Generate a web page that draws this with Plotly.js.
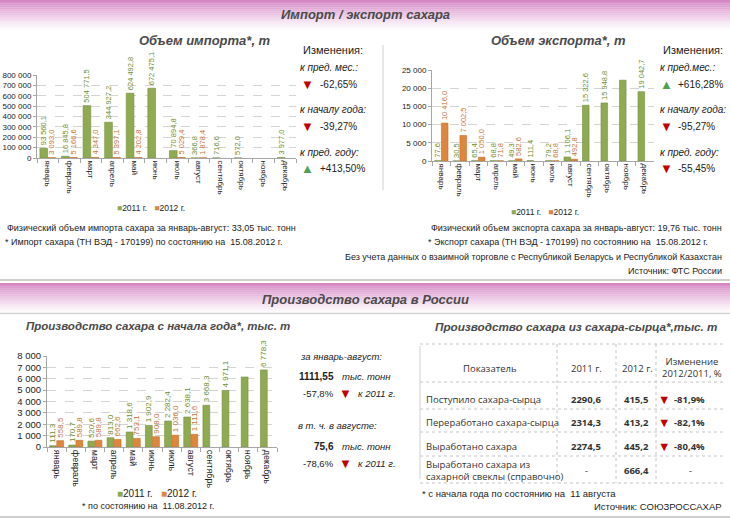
<!DOCTYPE html>
<html>
<head>
<meta charset="utf-8">
<script src="https://cdn.plot.ly/plotly-3.0.1.min.js"></script>
<style>html,body{margin:0;padding:0;background:#fff}#chart{width:730px;height:519px}</style>
</head>
<body>
<div id="chart"></div>
<script>
// ---------- DATA ----------
const months = ['январь','февраль','март','апрель','май','июнь','июль','август','сентябрь','октябрь','ноябрь','декабрь'];
const seriesNames = ['2011 г.','2012 г.'];

const import2011 = [93560.1,16845.8,504771.5,344927.2,624492.8,672475.1,70894.8,366.8,716.6,572.0,null,3977.0];
const import2012 = [3093.0,5166.6,4347.0,5397.1,4202.8,null,5029.4,1878.4,null,null,null,null];

const export2011 = [77.6,30.5,65.4,68.8,49.3,111.4,79.2,1106.1,15322.6,15948.8,22200,19042.7];
const export2012 = [10416.0,7002.5,1050.0,71.8,582.6,null,68.8,492.8,null,null,null,null];

const prod2011 = [111.3,170.7,520.6,813.0,1318.6,1902.9,2282.4,2638.1,3668.3,4971.1,6150,6778.3];
const prod2012 = [558.5,589.8,589.8,662.6,753.1,908.0,1036.0,1111.6,null,null,null,null];

// months whose 2011 label is not shown in the original
const hiddenLabelMonths = ['ноябрь'];

const importChangeLabels = ['к пред. мес.:','к началу года:','к пред. году:'];
const importChangeValues = [-62.65,-39.27,413.50];
const exportChangeLabels = ['к пред.мес.:','к началу года:','к пред. году:'];
const exportChangeValues = [616.28,-95.27,-55.45];

const importTotal = 33.05;
const exportTotal = 19.76;

const prodTotal = '1111,55';
const prodTotalChange = -57.8;
const prodAug = '75,6';
const prodAugChange = -78.6;

const tableHeader = ['Показатель','2011 г.','2012 г.','Изменение<br>2012/2011, %'];
const tableRows = ['Поступило сахара-сырца','Переработано сахара-сырца','Выработано сахара','Выработано сахара из<br>сахарной свеклы (справочно)'];
const table2011 = [2290.6,2314.3,2274.5,null];
const table2012 = [415.5,413.2,445.2,666.4];
const tableChange = [-81.9,-82.1,-80.4,null];

// ---------- STYLE ----------
const W = 730, H = 519;
const FONT = 'Liberation Sans, Arial, sans-serif';
const GREEN = '#8fab52', GREEN_LINE = '#748e3c', ORANGE = '#e0863c', ORANGE_LINE = '#c46e2a';
const GREEN_TXT = '#6d8d2c', ORANGE_TXT = '#c8733a';
const RED = '#c00000', UP = '#4fa04f';
const TXT = '#222';
const px = x => x / W;
const py = y => 1 - y / H;
const fmt = (v, d) => v.toFixed(d).replace('.', ',');

function ann(x, y, text, o) {
  o = o || {};
  return {xref:'paper', yref:'paper', x:px(x), y:py(y), text:text, showarrow:false,
    xanchor:o.xa || 'left', yanchor:'middle', align:o.align || 'left',
    font:{family:FONT, size:o.size || 9, color:o.color || TXT}};
}
function tplHidden() {
  return months.map(m => hiddenLabelMonths.includes(m) ? '' : '%{y:,.1f}');
}

function barTrace(x, y, name, xa, ya, green, size, hide) {
  return {type:'bar', x:x, y:y, name:name, xaxis:xa, yaxis:ya, showlegend:false,
    marker:{color: green ? GREEN : ORANGE, line:{color: green ? GREEN_LINE : ORANGE_LINE, width:0.6}},
    texttemplate: hide ? tplHidden() : '%{y:,.1f}', textposition:'outside', textangle:-90,
    constraintext:'none', cliponaxis:false,
    textfont:{family:FONT, size:size, color: green ? GREEN_TXT : ORANGE_TXT}};
}

const traces = [
  barTrace(months, import2011, seriesNames[0], 'x', 'y', true, 7.5, false),
  barTrace(months, import2012, seriesNames[1], 'x', 'y', false, 7.5, false),
  barTrace(months, export2011, seriesNames[0], 'x2', 'y2', true, 7.5, true),
  barTrace(months, export2012, seriesNames[1], 'x2', 'y2', false, 7.5, false),
  barTrace(months, prod2011, seriesNames[0], 'x3', 'y3', true, 8, true),
  barTrace(months, prod2012, seriesNames[1], 'x3', 'y3', false, 8, false)
];

function xAxis(x0, x1, anchor, fs) {
  return {domain:[px(x0), px(x1)], anchor:anchor, type:'category', tickangle:90,
    tickfont:{family:FONT, size:fs, color:TXT}, showline:true, linecolor:'#a6a6a6', linewidth:1,
    ticks:'outside', tickson:'boundaries', ticklen:4, tickcolor:'#a6a6a6', showgrid:false, fixedrange:true};
}
function yAxis(yTop, yBot, anchor, max, dt, fs) {
  return {domain:[py(yBot), py(yTop)], anchor:anchor, range:[0, max], dtick:dt, tickformat:',d',
    tickfont:{family:FONT, size:fs, color:TXT}, showgrid:true, gridcolor:'#d4d4d4', griddash:'dash',
    showline:true, linecolor:'#a6a6a6', ticks:'outside', ticklen:3, tickcolor:'#a6a6a6',
    zeroline:false, fixedrange:true};
}

// ---------- SHAPES ----------
const shapes = [];
function rect(x0, y0, x1, y1, fill, line) {
  shapes.push({type:'rect', xref:'paper', yref:'paper', x0:px(x0), x1:px(x1), y0:py(y1), y1:py(y0),
    fillcolor:fill, line:line || {width:0}, layer:'below'});
}
function lineP(x0, y0, x1, y1, color, width, dash) {
  shapes.push({type:'line', xref:'paper', yref:'paper', x0:px(x0), x1:px(x1), y0:py(y0), y1:py(y1),
    line:{color:color, width:width || 1, dash:dash || 'solid'}, layer:'below'});
}
function banner(y0, y1) {
  const n = 16;
  for (let i = 0; i < n; i++) {
    const a = Math.pow(1 - i / n, 1.3) * 0.95;
    rect(0, y0 + i * (y1 - y0) / n, W, y0 + (i + 1) * (y1 - y0) / n, 'rgba(211,128,194,' + a.toFixed(3) + ')');
  }
}
banner(0, 30);
lineP(0, 280, W, 280, '#cfcfcf', 2);
banner(283, 313);
lineP(0, 313.5, W, 313.5, '#d4d4d4', 1.5);
lineP(0, 517, W, 517, '#cfcfcf', 2);
lineP(383, 45, 383, 190, '#cfcfcf', 1);

// table grid
const tCols = [420, 557, 616, 656, 725];
const tLines = [344, 382, 409, 432, 456, 483];
tLines.forEach(y => lineP(420, y, 725, y, '#c4c4c4', 1, 'dot'));
tCols.slice(1, 4).forEach(x => lineP(x, 344, x, 483, '#c4c4c4', 1, 'dot'));
lineP(420, 346, 420, 479, '#d0d0d0', 1);

// ---------- ANNOTATIONS ----------
const A = [];
const TITLE_C = '#4a4a4a';
A.push(ann(365, 14, '<b><i>Импорт / экспорт сахара</i></b>', {xa:'center', size:13, color:TITLE_C}));
A.push(ann(205, 40, '<b><i>Объем импорта*, т</i></b>', {xa:'center', size:13, color:TITLE_C}));
A.push(ann(558, 40, '<b><i>Объем экспорта*, т</i></b>', {xa:'center', size:13, color:TITLE_C}));
A.push(ann(365, 299, '<b><i>Производство сахара в России</i></b>', {xa:'center', size:13, color:TITLE_C}));
A.push(ann(158, 326, '<b><i>Производство сахара с начала года*, тыс. т</i></b>', {xa:'center', size:11.5, color:TITLE_C}));
A.push(ann(576, 326, '<b><i>Производство сахара из сахара-сырца*,тыс. т</i></b>', {xa:'center', size:11.7, color:TITLE_C}));

// changes blocks
function changes(xL, xIcon, xVal, labels, vals) {
  const ys = [[68, 84], [110, 126], [152, 168]];
  labels.forEach((l, i) => {
    A.push(ann(xL, ys[i][0], '<i>' + l + '</i>', {size:10}));
    const v = vals[i];
    A.push(ann(xIcon, ys[i][1], v < 0 ? '▼' : '▲', {xa:'center', size:13, color: v < 0 ? RED : UP}));
    A.push(ann(xVal, ys[i][1], (v > 0 ? '+' : '') + fmt(v, 2) + '%', {size:10}));
  });
}
A.push(ann(301, 50, 'Изменения:', {size:11}));
changes(298, 307, 318, importChangeLabels, importChangeValues);
A.push(ann(661, 50, 'Изменения:', {size:11}));
changes(658, 666, 676, exportChangeLabels, exportChangeValues);

// legends
function legend(xc, y, size) {
  return ann(xc, y, '<span style="color:' + GREEN + '">■</span>' + seriesNames[0] +
    '   <span style="color:' + ORANGE + '">■</span>' + seriesNames[1], {xa:'center', size:size});
}
A.push(legend(151, 208, 8.5));
A.push(legend(545, 212, 8.5));
A.push(legend(157, 493, 10));

// notes top
A.push(ann(5, 228, 'Физический объем импорта сахара за январь-август: ' + fmt(importTotal, 2) + ' тыс. тонн', {size:9}));
A.push(ann(3, 242, '* Импорт сахара (ТН ВЭД - 170199) по состоянию на  15.08.2012 г.', {size:9}));
A.push(ann(724, 228, 'Физический объем экспорта сахара за январь-август: ' + fmt(exportTotal, 2) + ' тыс. тонн', {xa:'right', size:9}));
A.push(ann(710, 242, '* Экспорт сахара (ТН ВЭД - 170199) по состоянию на  15.08.2012 г.', {xa:'right', size:9}));
A.push(ann(724, 257, 'Без учета данных о взаимной торговле с Республикой Беларусь и Республикой Казахстан', {xa:'right', size:9}));
A.push(ann(724, 271, 'Источник: ФТС России', {xa:'right', size:9}));

// production side text
A.push(ann(298, 356, '<i>за январь-август:</i>', {size:9.5}));
A.push(ann(336, 376, '<b>' + prodTotal + '</b>', {xa:'right', size:10}));
A.push(ann(340, 376, '<i>тыс. тонн</i>', {size:9.5}));
A.push(ann(336, 393, fmt(prodTotalChange, 1) + '%', {xa:'right', size:9.5}));
A.push(ann(345, 393, '▼', {xa:'center', size:13, color:RED}));
A.push(ann(356, 393, '<i>к 2011 г.</i>', {size:9.5}));
A.push(ann(296, 425, '<i>в т. ч. в августе:</i>', {size:9.5}));
A.push(ann(336, 446, '<b>' + prodAug + '</b>', {xa:'right', size:10}));
A.push(ann(340, 446, '<i>тыс. тонн</i>', {size:9.5}));
A.push(ann(336, 463, fmt(prodAugChange, 1) + '%', {xa:'right', size:9.5}));
A.push(ann(345, 463, '▼', {xa:'center', size:13, color:RED}));
A.push(ann(356, 463, '<i>к 2011 г.</i>', {size:9.5}));
A.push(ann(80, 506, '* по состоянию на  11.08.2012 г.', {size:9}));

// table
const TF = 'Open Sans, Liberation Sans, sans-serif';
function tann(x, y, text, xa, bold, color) {
  const a = ann(x, y, bold ? '<b>' + text + '</b>' : text, {xa:xa, size:9.5, color:color || '#333', align:'center'});
  a.font.family = TF;
  return a;
}
A.push(tann(490, 368, tableHeader[0], 'center'));
A.push(tann(586, 368, tableHeader[1], 'center'));
A.push(tann(637, 368, tableHeader[2], 'center'));
A.push(tann(692, 367, tableHeader[3], 'center'));
const rowY = [399, 422, 446, 470];
tableRows.forEach((r, i) => {
  const ra = tann(424, rowY[i], r, 'left');
  ra.align = 'left';
  A.push(ra);
  A.push(tann(586, rowY[i], table2011[i] == null ? '-' : fmt(table2011[i], 1), 'center', table2011[i] != null));
  A.push(tann(636, rowY[i], table2012[i] == null ? '-' : fmt(table2012[i], 1), 'center', true));
  if (tableChange[i] == null) {
    A.push(tann(690, rowY[i], '-', 'center'));
  } else {
    const t = tann(664, rowY[i], '▼', 'center', false, RED);
    t.font.size = 12.5;
    A.push(t);
    A.push(tann(672, rowY[i], fmt(tableChange[i], 1) + '%', 'left', true));
  }
});
A.push(ann(420, 493, '* с начала года по состоянию на  11 августа', {size:9.5}));
A.push(ann(724, 506, 'Источник: СОЮЗРОССАХАР', {xa:'right', size:9.5}));

const layout = {
  width:W, height:H, margin:{l:0, r:0, t:0, b:0}, paper_bgcolor:'#fff', plot_bgcolor:'rgba(0,0,0,0)',
  separators:', ', barmode:'group', bargap:0.25, bargroupgap:0.05, showlegend:false,
  font:{family:FONT, color:TXT},
  xaxis: xAxis(37, 296, 'y', 8),
  yaxis: yAxis(75, 158, 'x', 800000, 100000, 8),
  xaxis2: xAxis(432, 654, 'y2', 8),
  yaxis2: yAxis(70, 161, 'x2', 25000, 5000, 8),
  xaxis3: xAxis(47, 277, 'y3', 9),
  yaxis3: yAxis(356, 447, 'x3', 8000, 1000, 9.5),
  shapes:shapes, annotations:A
};
Plotly.newPlot('chart', traces, layout, {displayModeBar:false, staticPlot:true});
</script>
</body>
</html>
